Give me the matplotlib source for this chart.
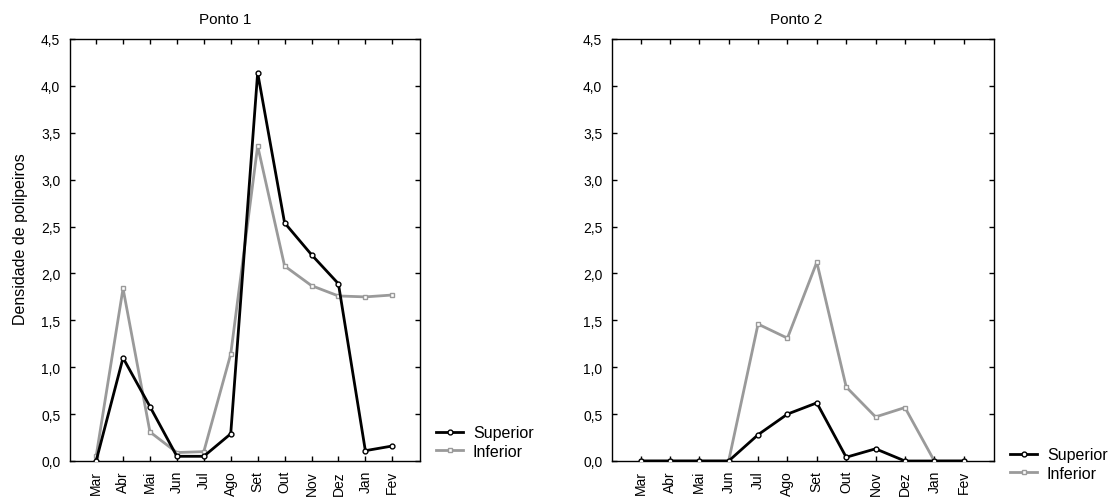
import matplotlib
matplotlib.use("Agg")
import matplotlib.pyplot as plt
from matplotlib.ticker import FuncFormatter

plt.rcParams["font.family"] = ["Liberation Sans", "DejaVu Sans"]
plt.rcParams["font.size"] = 10

# ---------------------------------------------------------------------------
# Data
# ---------------------------------------------------------------------------
months = ["Mar", "Abr", "Mai", "Jun", "Jul", "Ago", "Set", "Out", "Nov", "Dez", "Jan", "Fev"]

p1_superior = [0.0, 1.10, 0.58, 0.05, 0.05, 0.29, 4.14, 2.54, 2.20, 1.89, 0.11, 0.16]
p1_inferior = [0.05, 1.84, 0.31, 0.09, 0.10, 1.14, 3.36, 2.08, 1.87, 1.76, 1.75, 1.77]

p2_superior = [0.0, 0.0, 0.0, 0.0, 0.28, 0.50, 0.62, 0.04, 0.13, 0.0, 0.0, 0.0]
p2_inferior = [0.0, 0.0, 0.0, 0.0, 1.46, 1.31, 2.12, 0.79, 0.47, 0.57, 0.0, 0.0]

titles = ["Ponto 1", "Ponto 2"]
yticks = [0.0, 0.5, 1.0, 1.5, 2.0, 2.5, 3.0, 3.5, 4.0, 4.5]

GREY = "#9a9a9a"

fig = plt.figure(figsize=(11.16, 5.02), dpi=100)
W, H = 1116, 502
ax1 = fig.add_axes([70 / W, 40 / H, 350 / W, 422 / H])
ax2 = fig.add_axes([612 / W, 40 / H, 382 / W, 422 / H])

comma = FuncFormatter(lambda v, _: f"{v:.1f}".replace(".", ","))

# (axes, superior, inferior, title x, legend x, legend y) -- positions in axes fractions
panels = [
    (ax1, p1_superior, p1_inferior, 0.443, 1.046, 0.045),
    (ax2, p2_superior, p2_inferior, 0.482, 1.042, -0.007),
]

for i, (ax, sup, inf, tx, lx, ly) in enumerate(panels):
    x = range(len(months))
    ax.plot(x, sup, color="black", lw=2.0, marker="o", ms=3.5,
            mfc="white", mec="black", mew=1.0, label="Superior", zorder=3)
    ax.plot(x, inf, color=GREY, lw=2.0, marker="s", ms=3.5,
            mfc="white", mec=GREY, mew=1.0, label="Inferior", zorder=2)
    ax.set_xlim(-0.97, 12.03)
    ax.set_ylim(0, 4.5)
    ax.set_xticks(list(x))
    ax.set_xticklabels(months, rotation=90)
    ax.set_yticks(yticks)
    ax.yaxis.set_major_formatter(comma)
    ax.tick_params(direction="in", top=True, right=True, length=3.5,
                   width=1.0, labelsize=10)
    ax.tick_params(axis="y", pad=7)
    ax.tick_params(axis="x", pad=6.5)
    for s in ax.spines.values():
        s.set_linewidth(1.0)
    ax.text(tx, 1.038, titles[i], transform=ax.transAxes, ha="center",
            va="baseline", fontsize=11)
    ax.legend(loc="center left", bbox_to_anchor=(lx, ly), frameon=False,
              handlelength=1.7, handletextpad=0.6, labelspacing=0.2,
              fontsize=11.5, borderpad=0, borderaxespad=0)

fig.text(21 / W, 1 - 239 / H, "Densidade de polipeiros", rotation=90,
         ha="center", va="center", fontsize=11.5)

fig.savefig("out.png", dpi=100)
